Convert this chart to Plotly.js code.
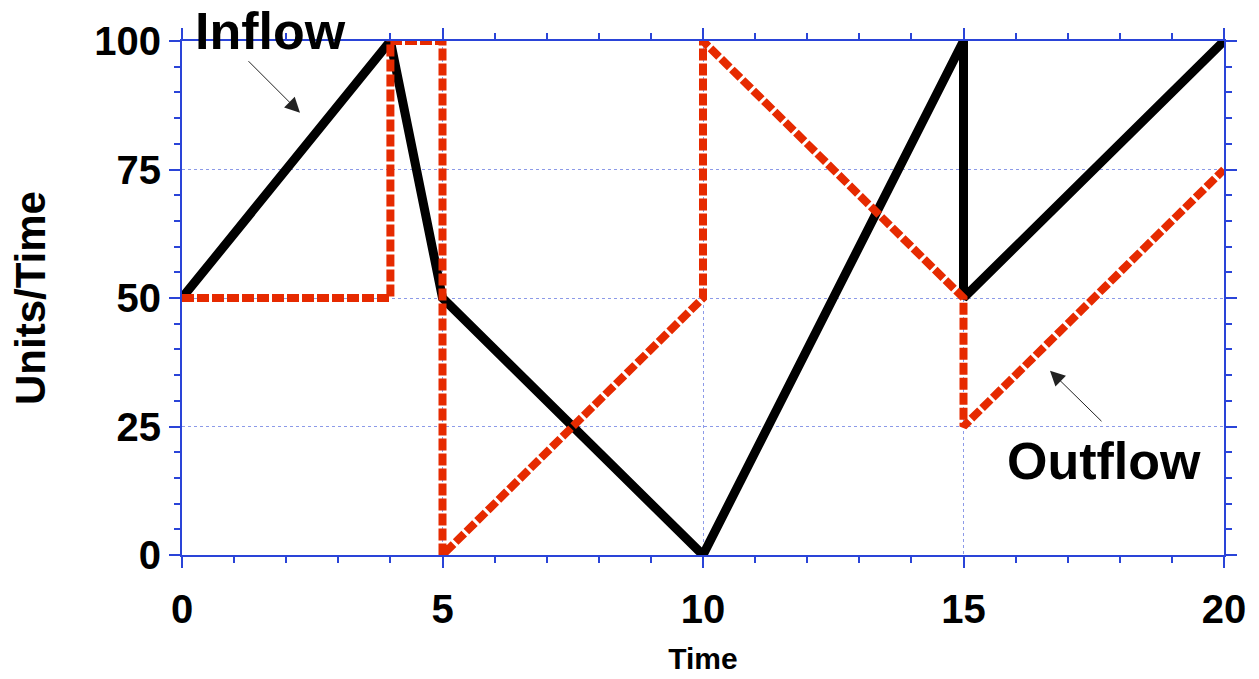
<!DOCTYPE html>
<html>
<head>
<meta charset="utf-8">
<script src="https://cdn.plot.ly/plotly-3.0.1.min.js"></script>
<style>html,body{margin:0;padding:0;background:#fff;}#chart{width:1259px;height:679px;}</style>
</head>
<body>
<div id="chart"></div>
<script>
// Data
var inflowTime  = [0, 4, 5, 10, 15, 15, 20];
var inflowValue = [50, 100, 50, 0, 100, 50, 100];
var outflowTime  = [0, 4, 4, 5, 5, 10, 10, 15, 15, 20];
var outflowValue = [50, 50, 100, 100, 0, 50, 100, 50, 25, 75];
var xTicks = [0, 5, 10, 15, 20];
var yTicks = [0, 25, 50, 75, 100];

var axisBlue = '#2a44d8';
var gridBlue = '#8c9ae8';
var font = 'Liberation Sans, Arial, Helvetica, sans-serif';

var traces = [
  {x: inflowTime, y: inflowValue, mode: 'lines', name: 'Inflow', cliponaxis: false,
   line: {color: '#000000', width: 9}},
  {x: outflowTime, y: outflowValue, mode: 'lines', name: 'Outflow', cliponaxis: false,
   line: {color: '#e62a00', width: 8, dash: '12px,3px'}}
];

var axisCommon = {
  showline: true, linecolor: axisBlue, linewidth: 2, mirror: 'allticks',
  ticks: 'outside', ticklen: 11, tickwidth: 2, tickcolor: axisBlue,
  showgrid: true, gridcolor: gridBlue, gridwidth: 1, griddash: 'dot',
  zeroline: false,
  tickfont: {family: font, size: 40, color: '#000', weight: 'bold'}
};

var layout = {
  width: 1259, height: 679,
  margin: {l: 182, r: 35, t: 41, b: 124},
  paper_bgcolor: '#fff', plot_bgcolor: '#fff',
  showlegend: false,
  font: {family: font, color: '#000'},
  xaxis: Object.assign({}, axisCommon, {
    range: [0, 20], tickvals: xTicks, ticktext: xTicks.map(String),
    ticklabelstandoff: 7,
    minor: {dtick: 1, ticks: 'outside', ticklen: 6, tickwidth: 2, tickcolor: axisBlue, showgrid: false},
    title: {text: '<b>Time</b>', font: {family: font, size: 30, color: '#000'}, standoff: 18}
  }),
  yaxis: Object.assign({}, axisCommon, {
    range: [0, 100], tickvals: yTicks, ticktext: yTicks.map(String),
    minor: {dtick: 5, ticks: 'outside', ticklen: 6, tickwidth: 2, tickcolor: axisBlue, showgrid: false},
    title: {text: '<b>Units/Time</b>', font: {family: font, size: 42, color: '#000'}, standoff: 36}
  }),
  annotations: [
    {xref: 'paper', yref: 'paper', x: 0.0845, y: 1.02, text: '<b>Inflow</b>', showarrow: false,
     xanchor: 'center', yanchor: 'middle', font: {family: font, size: 52, color: '#000'}},
    {xref: 'x', yref: 'y', x: 2.265, y: 86.05, ax: -53, ay: -53, text: '', showarrow: true,
     arrowhead: 2, arrowsize: 3, arrowwidth: 1, arrowcolor: '#222'},
    {xref: 'paper', yref: 'paper', x: 0.885, y: 0.183, text: '<b>Outflow</b>', showarrow: false,
     xanchor: 'center', yanchor: 'middle', font: {family: font, size: 52, color: '#000'}},
    {xref: 'x', yref: 'y', x: 16.66, y: 35.86, ax: 53, ay: 52, text: '', showarrow: true,
     arrowhead: 2, arrowsize: 3, arrowwidth: 1, arrowcolor: '#222'}
  ]
};

Plotly.newPlot('chart', traces, layout, {displayModeBar: false, staticPlot: true});
</script>
</body>
</html>
